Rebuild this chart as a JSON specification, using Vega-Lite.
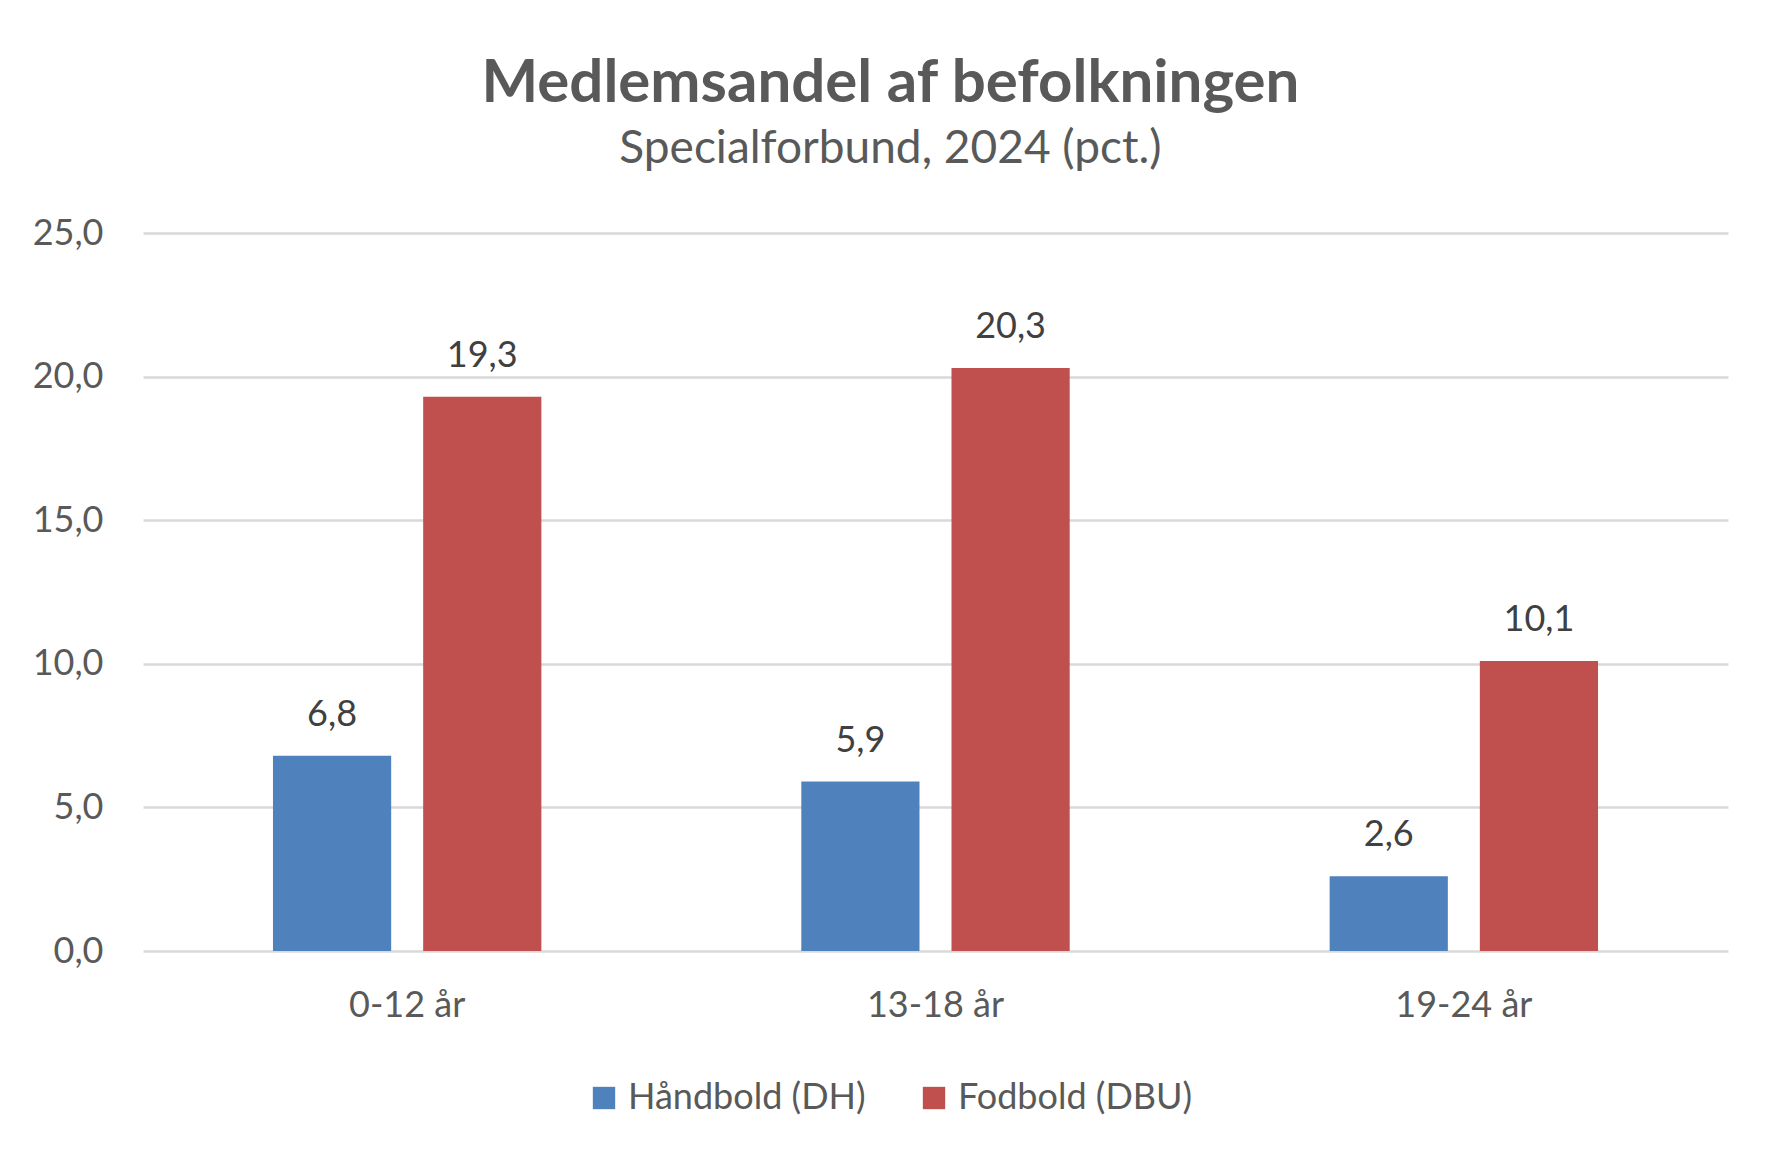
{
  "$schema": "https://vega.github.io/schema/vega-lite/v6.json",
  "width": 1585,
  "height": 718,
  "autosize": {"type": "none"},
  "padding": {"left": 143, "top": 233, "right": 53, "bottom": 213},
  "background": "white",
  "title": {
    "text": "Medlemsandel af befolkningen",
    "subtitle": "Specialforbund, 2024 (pct.)",
    "anchor": "middle",
    "dx": -45,
    "font": "Lato",
    "fontSize": 60,
    "fontWeight": "bold",
    "color": "#595959",
    "subtitleFont": "Lato",
    "subtitleFontSize": 46,
    "subtitleColor": "#595959",
    "subtitlePadding": 12,
    "offset": 42
  },
  "data": {
    "values": [
      {"alder": "0-12 år", "forbund": "Håndbold (DH)", "pct": 6.8},
      {"alder": "0-12 år", "forbund": "Fodbold (DBU)", "pct": 19.3},
      {"alder": "13-18 år", "forbund": "Håndbold (DH)", "pct": 5.9},
      {"alder": "13-18 år", "forbund": "Fodbold (DBU)", "pct": 20.3},
      {"alder": "19-24 år", "forbund": "Håndbold (DH)", "pct": 2.6},
      {"alder": "19-24 år", "forbund": "Fodbold (DBU)", "pct": 10.1}
    ]
  },
  "encoding": {
    "x": {
      "field": "alder",
      "type": "nominal",
      "sort": ["0-12 år", "13-18 år", "19-24 år"],
      "scale": {"paddingInner": 0.492, "paddingOuter": 0.246},
      "axis": {
        "title": null,
        "labelAngle": 0,
        "domain": false,
        "ticks": false,
        "labelPadding": 37,
        "labelFont": "Lato",
        "labelFontSize": 36,
        "labelColor": "#595959"
      }
    },
    "xOffset": {
      "field": "forbund",
      "type": "nominal",
      "sort": ["Håndbold (DH)", "Fodbold (DBU)"],
      "scale": {"paddingInner": 0.213, "paddingOuter": 0}
    },
    "y": {
      "field": "pct",
      "type": "quantitative",
      "scale": {"domain": [0, 25], "nice": false},
      "axis": {
        "title": null,
        "values": [0, 5, 10, 15, 20, 25],
        "format": ".1f",
        "domain": false,
        "ticks": false,
        "labelPadding": 40,
        "labelFont": "Lato",
        "labelFontSize": 36,
        "labelColor": "#595959",
        "gridColor": "#D9D9D9",
        "gridWidth": 2.5
      }
    }
  },
  "layer": [
    {
      "mark": {"type": "bar"},
      "encoding": {
        "color": {
          "field": "forbund",
          "type": "nominal",
          "sort": ["Håndbold (DH)", "Fodbold (DBU)"],
          "scale": {"domain": ["Håndbold (DH)", "Fodbold (DBU)"], "range": ["#4F81BD", "#C0504D"]},
          "legend": {
            "orient": "none",
            "legendX": 443,
            "legendY": 847,
            "direction": "horizontal",
            "title": null,
            "symbolType": "square",
            "symbolSize": 500,
            "symbolStrokeWidth": 0,
            "labelFont": "Lato",
            "labelFontSize": 36,
            "labelColor": "#595959",
            "labelLimit": 400,
            "labelOffset": 6,
            "columnPadding": 50
          }
        }
      }
    },
    {
      "mark": {"type": "text", "dy": -30, "baseline": "alphabetic", "font": "Lato", "fontSize": 36, "color": "#404040"},
      "encoding": {
        "text": {"field": "pct", "type": "quantitative", "format": ".1f"}
      }
    }
  ],
  "config": {
    "view": {"stroke": null},
    "locale": {"number": {"decimal": ",", "thousands": ".", "grouping": [3], "currency": ["", " kr."]}}
  }
}
